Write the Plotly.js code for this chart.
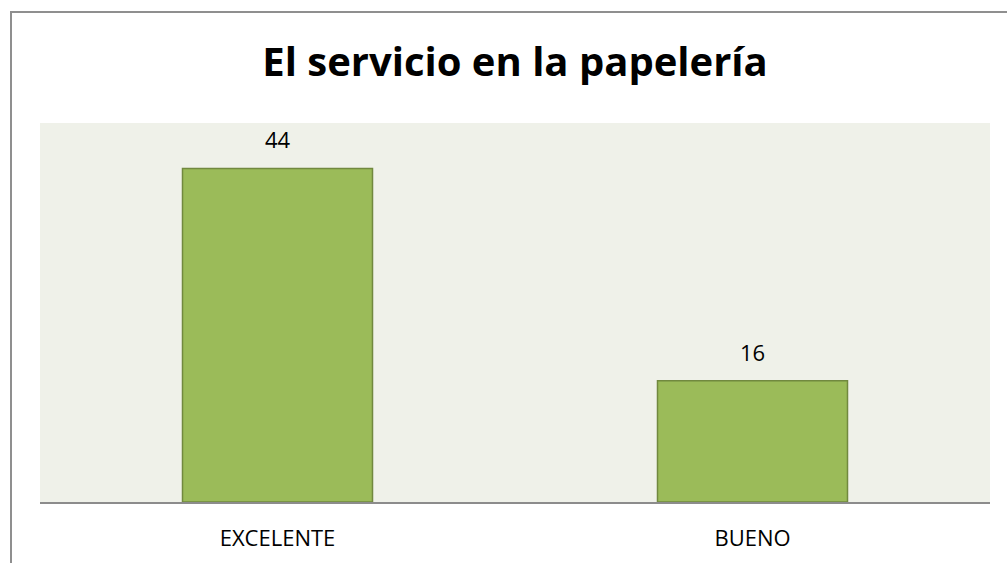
<!DOCTYPE html>
<html><head><meta charset="utf-8">
<script src="https://cdn.plot.ly/plotly-3.0.1.min.js"></script>
<style>html,body{margin:0;padding:0;background:#fff;}#chart{width:1007px;height:563px;}</style>
</head><body><div id="chart"></div>
<script>
const categories = ["EXCELENTE", "BUENO"];
const values = [44, 16];
const titleText = "El servicio en la papelería";

const W = 1007, H = 563;
const m = {l: 40, r: 17, t: 123, b: 61};
const pw = W - m.l - m.r, ph = H - m.t - m.b;
const px = v => (v - m.l) / pw;
const py = v => 1 - (v - m.t) / ph;

const trace = {
  type: 'bar', x: categories, y: values, width: 0.4,
  marker: {color: '#9BBB59', line: {color: '#71893F', width: 1.5}},
  hoverinfo: 'skip'
};

const annotations = categories.map((c, i) => ({
  x: c, y: values[i], xref: 'x', yref: 'y', text: String(values[i]),
  showarrow: false, yanchor: 'bottom', yshift: 12,
  font: {family: 'Open Sans, sans-serif', size: 22, color: '#000'}
}));

const layout = {
  width: W, height: H, margin: m,
  paper_bgcolor: '#ffffff', plot_bgcolor: '#EFF1E9',
  title: {text: '<b>' + titleText + '</b>', x: 0.5, xref: 'paper', xanchor: 'center',
          y: 63, yref: 'container', yanchor: 'middle',
          font: {family: 'Open Sans, sans-serif', size: 40, color: '#000'}},
  showlegend: false,
  bargap: 0.6,
  xaxis: {showgrid: false, showline: true, linecolor: '#8C8C8C', linewidth: 2,
          ticks: '', ticklabelstandoff: 16,
          tickfont: {family: 'Open Sans, sans-serif', size: 22, color: '#000'}},
  yaxis: {range: [0, 50], showgrid: false, showline: false, zeroline: false,
          showticklabels: false, ticks: ''},
  annotations: annotations,
  shapes: [{type: 'rect', xref: 'paper', yref: 'paper', layer: 'above',
            x0: px(11), x1: px(1100), y0: py(700), y1: py(12),
            line: {color: '#8F8F8F', width: 2}, fillcolor: 'rgba(0,0,0,0)'}]
};

Plotly.newPlot('chart', [trace], layout, {staticPlot: true, displayModeBar: false});
</script></body></html>
